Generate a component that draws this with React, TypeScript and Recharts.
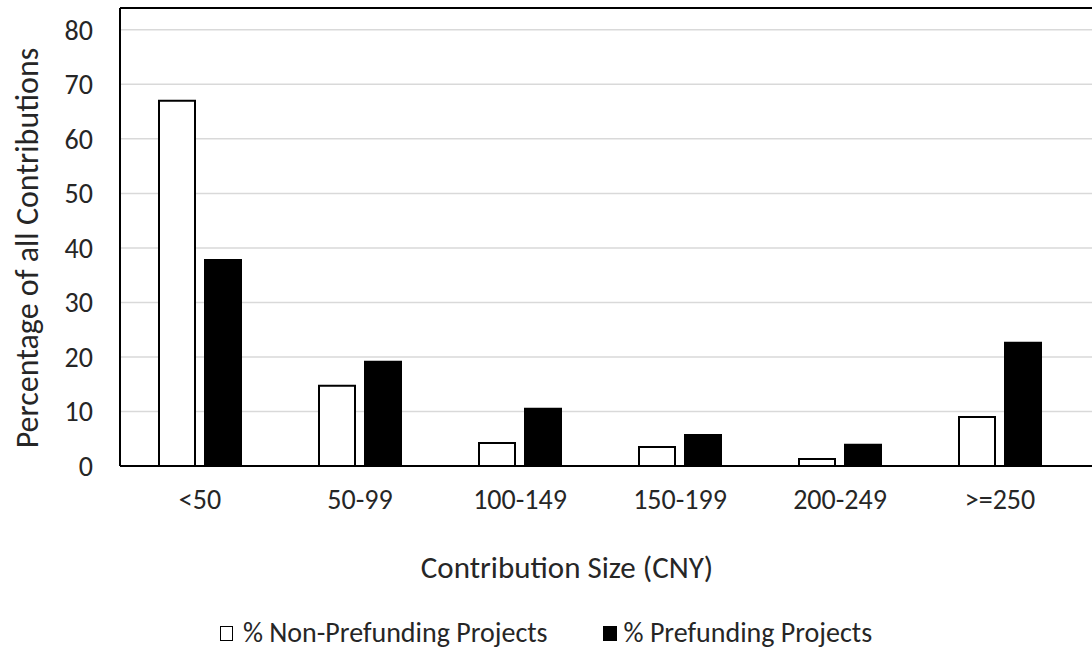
import React from "react";
import {
  BarChart,
  Bar,
  XAxis,
  YAxis,
  CartesianGrid,
  ReferenceLine,
} from "recharts";

const categories = ["<50", "50-99", "100-149", "150-199", "200-249", ">=250"];
const nonPrefunding = [67.0, 14.7, 4.2, 3.5, 1.3, 9.0];
const prefunding = [37.8, 19.1, 10.5, 5.7, 3.9, 22.6];
const yTicks = [0, 10, 20, 30, 40, 50, 60, 70, 80];

const data = categories.map((c, i) => ({
  name: c,
  nonPre: nonPrefunding[i],
  pre: prefunding[i],
}));

const FONT = "Carlito, Calibri, Lato, sans-serif";
const TEXT = "#262626";

export default function App() {
  return (
    <div
      style={{
        position: "absolute",
        left: 0,
        top: 0,
        width: 1092,
        height: 652,
        background: "#fff",
        fontFamily: FONT,
      }}
    >
      <BarChart
        width={1092}
        height={652}
        data={data}
        margin={{ top: 8, right: 0, left: 0, bottom: 76 }}
        barSize={36}
        barGap={10}
      >
        <CartesianGrid horizontal vertical={false} stroke="#d9d9d9" strokeWidth={1.5} />
        <XAxis
          dataKey="name"
          height={110}
          padding={{ left: 0, right: 12 }}
          axisLine={{ stroke: "#000", strokeWidth: 2 }}
          tickLine={false}
          tickMargin={17}
          tick={{ fontSize: 28, fill: TEXT, fontFamily: FONT }}
          label={{
            value: "Contribution Size (CNY)",
            position: "insideBottom",
            offset: -2,
            dx: -39,
            fontSize: 31,
            fill: TEXT,
            fontFamily: FONT,
          }}
        />
        <YAxis
          width={120}
          domain={[0, 84]}
          ticks={yTicks}
          allowDataOverflow
          axisLine={{ stroke: "#000", strokeWidth: 2 }}
          tickLine={false}
          tickMargin={21}
          tick={{ fontSize: 28, fill: TEXT, fontFamily: FONT }}
          label={{
            value: "Percentage of all Contributions",
            angle: -90,
            position: "center",
            dx: -33,
            dy: 11,
            fontSize: 32,
            fill: TEXT,
            fontFamily: FONT,
          }}
        />
        <ReferenceLine y={84} stroke="#000" strokeWidth={2} />
        <Bar
          dataKey="nonPre"
          fill="#fff"
          stroke="#000"
          strokeWidth={2}
          isAnimationActive={false}
        />
        <Bar
          dataKey="pre"
          fill="#000"
          stroke="#000"
          strokeWidth={2}
          isAnimationActive={false}
        />
      </BarChart>
      <div
        style={{
          position: "absolute",
          top: 617,
          left: 0,
          width: 1092,
          display: "flex",
          justifyContent: "center",
          boxSizing: "border-box",
          fontSize: 28,
          color: TEXT,
          fontFamily: FONT,
          lineHeight: "32px",
        }}
      >
        <div style={{ display: "flex", alignItems: "center", marginRight: 55 }}>
          <span
            style={{
              display: "inline-block",
              width: 11,
              height: 13,
              border: "1.5px solid #000",
              background: "#fff",
              marginRight: 10,
            }}
          />
          % Non-Prefunding Projects
        </div>
        <div style={{ display: "flex", alignItems: "center" }}>
          <span
            style={{
              display: "inline-block",
              width: 14,
              height: 15,
              background: "#000",
              marginRight: 7,
            }}
          />
          % Prefunding Projects
        </div>
      </div>
    </div>
  );
}
